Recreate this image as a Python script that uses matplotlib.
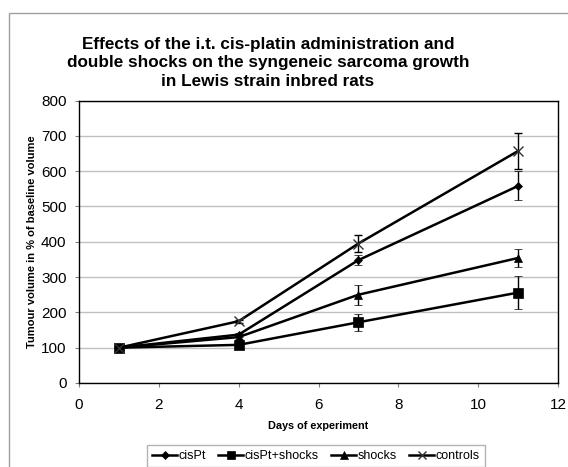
import matplotlib
matplotlib.use("Agg")
import matplotlib.pyplot as plt
from matplotlib.patches import Rectangle
from matplotlib.lines import Line2D

plt.rcParams['font.family'] = ['Liberation Sans', 'DejaVu Sans']

days = [1, 4, 7, 11]
series = ["cisPt", "cisPt+shocks", "shocks", "controls"]
cisPt = [100, 137, 348, 558]
cisPt_err = [0, 6, 15, 41]
cisPt_shocks = [100, 108, 172, 256]
cisPt_shocks_err = [0, 5, 24, 47]
shocks = [100, 130, 250, 354]
shocks_err = [0, 5, 28, 25]
controls = [100, 175, 395, 657]
controls_err = [0, 4, 25, 50]
markers = ["D", "s", "^", "x"]
marker_sizes = [4.5, 6.5, 6, 7]

title = ("Effects of the i.t. cis-platin administration and\n"
         "double shocks on the syngeneic sarcoma growth\n"
         "in Lewis strain inbred rats")

W, H = 568, 467
fig = plt.figure(figsize=(W / 100, H / 100), dpi=100)
ax = fig.add_axes([79 / W, 1 - 383 / H, (558 - 79) / W, (383 - 100.5) / H])

# outer chart border
fig.patches.append(Rectangle((9 / W, -0.1), 1.2, 1 - 13 / H + 0.1,
                             transform=fig.transFigure, fill=False,
                             edgecolor="#a0a0a0", linewidth=1.0))

data = [cisPt, cisPt_shocks, shocks, controls]
errs = [cisPt_err, cisPt_shocks_err, shocks_err, controls_err]
handles = []
for name, y, e, m, ms in zip(series, data, errs, markers, marker_sizes):
    mec = "#333333" if m == "x" else "black"
    mew = 1.0 if m == "x" else 0.5
    ax.errorbar(days, y, yerr=e, color="black", linewidth=1.8,
                marker=m, markersize=ms, markeredgewidth=mew,
                mfc="black", mec=mec,
                ecolor="black", elinewidth=1.0, capsize=3, capthick=1.0,
                label=name, zorder=3)
    handles.append(Line2D([], [], color="black", linewidth=1.8, marker=m,
                          markersize=ms * 0.85, mfc="black", mec=mec,
                          markeredgewidth=mew))

ax.set_xlim(0, 12)
ax.set_ylim(0, 800)
ax.set_xticks(range(0, 13, 2))
ax.set_yticks(range(0, 801, 100))
ax.yaxis.grid(True, color="#c0c0c0", linewidth=1.0)
ax.set_axisbelow(True)
for s in ax.spines.values():
    s.set_color("black")
    s.set_linewidth(1.0)
ax.tick_params(axis="both", direction="out", length=3, color="#808080",
               labelsize=11)
ax.tick_params(axis="y", pad=6)
ax.tick_params(axis="x", pad=8)

ax.set_xlabel("Days of experiment", fontsize=7.8, fontweight="bold", labelpad=6)
ax.set_ylabel("Tumour volume in % of baseline volume", fontsize=8,
              fontweight="bold", labelpad=3)

fig.text(268 / W, 1 - 63 / H, title, ha="center", va="center",
         fontsize=12.3, fontweight="bold", linespacing=1.3)

leg = fig.legend(handles=handles, labels=series, loc="upper left",
                 bbox_to_anchor=(147 / W, 1 - 445 / H), ncol=4,
                 fontsize=9, frameon=True, fancybox=False,
                 edgecolor="#a0a0a0", handlelength=2.0, handletextpad=0.1,
                 columnspacing=1.0, borderpad=0.4, borderaxespad=0)
leg.get_frame().set_linewidth(1.0)

fig.savefig("out.png", dpi=100)
